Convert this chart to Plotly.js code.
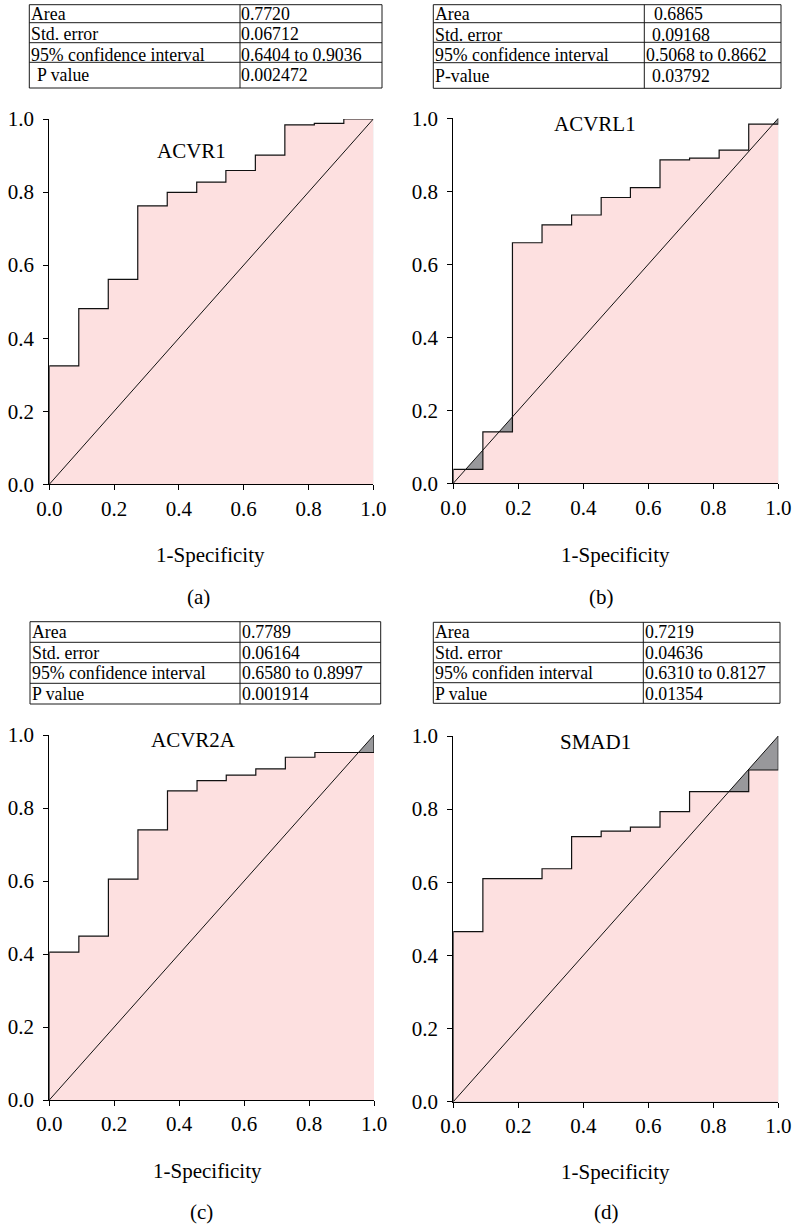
<!DOCTYPE html>
<html>
<head>
<meta charset="utf-8">
<script src="https://cdn.plot.ly/plotly-3.0.1.min.js"></script>
<style>html,body{margin:0;padding:0;background:#fff;}#chart{width:792px;height:1226px;}</style>
</head>
<body>
<div id="chart"></div>
<script>
// ---- data ----
const fpr = [0, 0, 0.091, 0.182, 0.273, 0.364, 0.455, 0.545, 0.636, 0.727, 0.818, 0.909, 1.0];
const sensACVR1  = [0, 0.324, 0.481, 0.561, 0.762, 0.799, 0.827, 0.859, 0.901, 0.984, 0.988, 1.0, 1.0];
const sensACVRL1 = [0, 0.038, 0.141, 0.659, 0.708, 0.735, 0.783, 0.810, 0.886, 0.891, 0.913, 0.984, 1.0];
const sensACVR2A = [0, 0.405, 0.449, 0.605, 0.740, 0.847, 0.875, 0.890, 0.907, 0.939, 0.952, 0.952, 1.0];
const sensSMAD1  = [0, 0.465, 0.610, 0.610, 0.637, 0.725, 0.740, 0.751, 0.793, 0.848, 0.848, 0.907, 1.0];
const chanceLine = [0, 1];

const geneNames = ["ACVR1", "ACVRL1", "ACVR2A", "SMAD1"];
const panelLabels = ["(a)", "(b)", "(c)", "(d)"];
const xAxisTitle = "1-Specificity";

const statLabelsA = ["Area", "Std. error", "95% confidence interval", "P value"];
const statValuesA = ["0.7720", "0.06712", "0.6404 to 0.9036", "0.002472"];
const statLabelsB = ["Area", "Std. error", "95% confidence interval", "P-value"];
const statValuesB = ["0.6865", "0.09168", "0.5068 to 0.8662", "0.03792"];
const statLabelsC = ["Area", "Std. error", "95% confidence interval", "P value"];
const statValuesC = ["0.7789", "0.06164", "0.6580 to 0.8997", "0.001914"];
const statLabelsD = ["Area", "Std. error", "95% confiden interval", "P value"];
const statValuesD = ["0.7219", "0.04636", "0.6310 to 0.8127", "0.01354"];

// ---- layout helpers ----
const W = 792, H = 1226;
const px = x => x / W;
const py = y => 1 - y / H;
const FONT = "Liberation Serif, Times New Roman, serif";
const FS = 21;      // axis / label text
const FS_T = 17.8;  // table text (rows are only ~20 px tall)
const PINK = "#fde0e0";
const GRAY = "#98989b";

const panels = [
  {sens: sensACVR1,  xd: [49.3, 373.3], yd: [119, 484.3],   title: [0.439, 0.912],
   xt: [210, 555], pl: [198, 597],
   tbl: {l: 29.3, r: 382, d: 240, rows: [4.7, 22.7, 42.7, 62.3, 88], tc: [14, 34.4, 54.8, 75.2],
         lx: [31, 31, 31, 37], vx: [241, 241, 241, 241]}, labels: statLabelsA, values: statValuesA},
  {sens: sensACVRL1, xd: [453.3, 778.3], yd: [118.3, 483.3], title: [0.436, 0.985],
   xt: [615, 555], pl: [601, 597],
   tbl: {l: 433.3, r: 781, d: 644.3, rows: [4.7, 22.7, 42.3, 62.7, 88.3], tc: [14.2, 34.6, 55, 75.6],
         lx: [435, 435, 435, 435], vx: [654, 652.3, 645.5, 652.3]}, labels: statLabelsB, values: statValuesB},
  {sens: sensACVR2A, xd: [49.3, 374], yd: [735, 1100],     title: [0.443, 0.986],
   xt: [207, 1171], pl: [202, 1212],
   tbl: {l: 30, r: 380.7, d: 240, rows: [621.7, 642.3, 662.7, 683.3, 704], tc: [632.4, 652.8, 673.2, 693.6],
         lx: [31.5, 31.5, 31.5, 31.5], vx: [241.5, 241.5, 241.5, 241.5]}, labels: statLabelsC, values: statValuesC},
  {sens: sensSMAD1,  xd: [453.3, 778.3], yd: [736, 1101.7],  title: [0.4375, 0.983],
   xt: [615, 1172], pl: [606, 1212],
   tbl: {l: 433.3, r: 780, d: 643.3, rows: [622.3, 642.3, 662.7, 682.7, 703.3], tc: [632.3, 652.7, 673.1, 693.5],
         lx: [435, 435, 435, 435], vx: [645, 645, 645, 645]}, labels: statLabelsD, values: statValuesD}
];

const traces = [];
const layout = {
  width: W, height: H,
  margin: {l: 0, r: 0, t: 0, b: 0},
  paper_bgcolor: "#fff", plot_bgcolor: "rgba(0,0,0,0)",
  showlegend: false,
  font: {family: FONT, size: FS, color: "#000"},
  annotations: [], shapes: []
};

panels.forEach((p, i) => {
  const sfx = i === 0 ? "" : String(i + 1);
  const xa = "x" + sfx, ya = "y" + sfx;
  // gray area under chance line (shows where ROC falls below it)
  traces.push({x: chanceLine, y: chanceLine, xaxis: xa, yaxis: ya, mode: "lines",
    line: {width: 0, color: GRAY}, fill: "tozeroy", fillcolor: GRAY, hoverinfo: "skip"});
  // ROC step curve
  traces.push({x: fpr, y: p.sens, xaxis: xa, yaxis: ya, mode: "lines",
    line: {shape: "hv", color: "#111", width: 1.2}, fill: "tozeroy", fillcolor: PINK,
    name: geneNames[i]});
  // chance diagonal
  traces.push({x: chanceLine, y: chanceLine, xaxis: xa, yaxis: ya, mode: "lines",
    line: {color: "#111", width: 1}, hoverinfo: "skip"});

  const common = {
    range: [0, 1], showline: true, linecolor: "#000", linewidth: 1,
    ticks: "outside", ticklen: 5, tickwidth: 1, tickcolor: "#000",
    showgrid: false, zeroline: false, tick0: 0, dtick: 0.2, tickformat: ".1f",
    tickfont: {family: FONT, size: FS, color: "#000"}, fixedrange: true
  };
  layout["xaxis" + sfx] = Object.assign({}, common, {
    domain: [px(p.xd[0]), px(p.xd[1])], anchor: ya, ticklabelstandoff: 0});
  layout["yaxis" + sfx] = Object.assign({}, common, {
    domain: [py(p.yd[1]), py(p.yd[0])], anchor: xa, ticklabelstandoff: 5});

  // gene name inside plot
  layout.annotations.push({xref: xa, yref: ya, x: p.title[0], y: p.title[1], text: geneNames[i],
    showarrow: false, xanchor: "center", yanchor: "middle", borderpad: 0, borderwidth: 0,
    font: {family: FONT, size: FS, color: "#000"}});
  // x-axis title
  layout.annotations.push({xref: "paper", yref: "paper", x: px(p.xt[0]), y: py(p.xt[1]), text: xAxisTitle,
    showarrow: false, xanchor: "center", yanchor: "middle", borderpad: 0, borderwidth: 0,
    font: {family: FONT, size: FS, color: "#000"}});
  // panel label
  layout.annotations.push({xref: "paper", yref: "paper", x: px(p.pl[0]), y: py(p.pl[1]), text: panelLabels[i],
    showarrow: false, xanchor: "center", yanchor: "middle", borderpad: 0, borderwidth: 0,
    font: {family: FONT, size: FS, color: "#000"}});

  // statistics table
  const t = p.tbl;
  const lineStyle = {color: "#1a1a1a", width: 1};
  layout.shapes.push({type: "rect", xref: "paper", yref: "paper",
    x0: px(t.l), x1: px(t.r), y0: py(t.rows[4]), y1: py(t.rows[0]), line: lineStyle});
  for (let k = 1; k < 4; k++) {
    layout.shapes.push({type: "line", xref: "paper", yref: "paper",
      x0: px(t.l), x1: px(t.r), y0: py(t.rows[k]), y1: py(t.rows[k]), line: lineStyle});
  }
  layout.shapes.push({type: "line", xref: "paper", yref: "paper",
    x0: px(t.d), x1: px(t.d), y0: py(t.rows[4]), y1: py(t.rows[0]), line: lineStyle});
  for (let k = 0; k < 4; k++) {
    layout.annotations.push({xref: "paper", yref: "paper", x: px(t.lx[k]), y: py(t.tc[k]),
      text: p.labels[k], showarrow: false, xanchor: "left", yanchor: "middle",
      borderpad: 0, borderwidth: 0, font: {family: FONT, size: FS_T, color: "#000"}});
    layout.annotations.push({xref: "paper", yref: "paper", x: px(t.vx[k]), y: py(t.tc[k]),
      text: p.values[k], showarrow: false, xanchor: "left", yanchor: "middle",
      borderpad: 0, borderwidth: 0, font: {family: FONT, size: FS_T, color: "#000"}});
  }
});

Plotly.newPlot("chart", traces, layout, {staticPlot: true, displayModeBar: false});
</script>
</body>
</html>
